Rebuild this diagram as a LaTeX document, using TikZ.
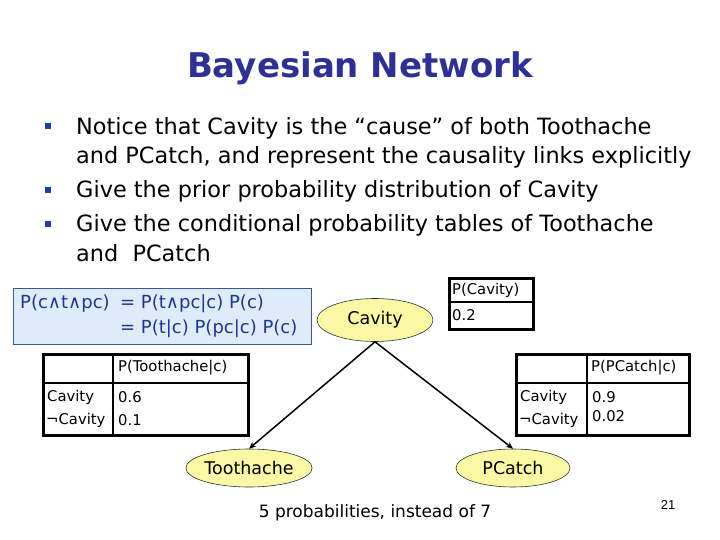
\documentclass[tikz,border=0pt]{standalone}
\usepackage{fontspec}
\setmainfont{DejaVu Sans}
\newfontfamily\arialfont{Liberation Sans}
\usetikzlibrary{shapes.geometric,arrows.meta}
\definecolor{titleblue}{RGB}{46,49,146}
\definecolor{bulletblue}{RGB}{30,60,180}
\definecolor{boxfill}{RGB}{222,236,250}
\definecolor{boxline}{RGB}{60,90,140}
\definecolor{formblue}{RGB}{30,55,140}
\definecolor{nodefill}{RGB}{250,248,165}
\tikzset{
  txt/.style={inner sep=0pt, anchor=base west},
  bullettxt/.style={txt, font=\fontsize{22.4}{26}\selectfont},
  bulletsq/.style={fill=bulletblue, minimum width=6pt, minimum height=6pt, inner sep=0pt},
  formtxt/.style={txt, text=formblue, font=\fontsize{18}{21}\selectfont},
  tabtxt/.style={inner sep=0pt, anchor=west, font=\fontsize{14.8}{18}\selectfont},
  tabbox/.style={draw, line width=2.5pt, inner sep=0pt},
  tabline/.style={line width=1.5pt},
  bnode/.style={ellipse, draw=black!80, line width=0.6pt, fill=nodefill, inner sep=0pt, font=\fontsize{17.5}{20}\selectfont},
  link/.style={line width=1.5pt, -{Stealth[length=7pt,width=6pt]}}
}
\begin{document}
\begin{tikzpicture}[x=1pt,y=-1pt]
\useasboundingbox (0,0) rectangle (720,540);
\fill[white] (0,0) rectangle (720,540);
% title
\node[inner sep=0pt, anchor=base, text=titleblue, font=\fontsize{34}{40}\selectfont\bfseries] (title) at (360,78) {Bayesian Network};
% bullets
\node[bulletsq] (b1) at (48,126) {};
\node[bullettxt] (t1) at (76,135) {Notice that Cavity is the “cause” of both Toothache};
\node[bullettxt] (t2) at (76,164) {and PCatch, and represent the causality links explicitly};
\node[bulletsq] (b2) at (48,190) {};
\node[bullettxt] (t3) at (76,198) {Give the prior probability distribution of Cavity};
\node[bulletsq] (b3) at (48,224) {};
\node[bullettxt] (t4) at (76,232) {Give the conditional probability tables of Toothache};
\node[bullettxt] (t5) at (76,261) {and~ PCatch};
% formula box
\node[draw=boxline, fill=boxfill, line width=0.8pt, minimum width=298pt, minimum height=56pt, inner sep=0pt, anchor=north west] (fbox) at (13,288) {};
\node[formtxt] (f1) at (20,308) {P(c∧t∧pc)};
\node[formtxt] (f2) at (120,308) {= P(t∧pc|c) P(c)};
\node[formtxt] (f3) at (120,333) {= P(t|c) P(pc|c) P(c)};
% Cavity prior table
\node[tabbox, minimum width=84pt, minimum height=51pt, anchor=north west] (ptab) at (448,277) {};
\draw[tabline] (448,302) -- (532,302);
\node[tabtxt] (pc1) at (452,290) {P(Cavity)};
\node[tabtxt] (pc2) at (452,315) {0.2};
% Toothache table
\node[tabbox, minimum width=205pt, minimum height=81pt, anchor=north west] (ttab) at (42,353) {};
\draw[tabline] (42,383) -- (247,383);
\draw[tabline] (113,353) -- (113,434);
\node[tabtxt] (tt1) at (118,368) {P(Toothache|c)};
\node[tabtxt] (tt2) at (47,397) {Cavity};
\node[tabtxt] (tt3) at (46,420) {¬Cavity};
\node[tabtxt] (tt4) at (118,397) {0.6};
\node[tabtxt] (tt5) at (118,420) {0.1};
% PCatch table
\node[tabbox, minimum width=173pt, minimum height=81pt, anchor=north west] (ctab) at (515,353) {};
\draw[tabline] (515,383) -- (688,383);
\draw[tabline] (587,353) -- (587,434);
\node[tabtxt] (ct1) at (591,368) {P(PCatch|c)};
\node[tabtxt] (ct2) at (520,397) {Cavity};
\node[tabtxt] (ct3) at (519,420) {¬Cavity};
\node[tabtxt] (ct4) at (592,397) {0.9};
\node[tabtxt] (ct5) at (592,416) {0.02};
% network nodes
\node[bnode, minimum width=116pt, minimum height=43pt] (cav) at (375,320) {Cavity};
\node[bnode, minimum width=118pt, minimum height=38pt] (tooth) at (249,468) {Toothache};
\node[bnode, minimum width=114pt, minimum height=38pt] (catch) at (513,468) {PCatch};
\draw[link] (cav.south) -- (tooth.north);
\draw[link] (cav.south) -- (catch.north);
% footer
\node[inner sep=0pt, font=\fontsize{17}{20}\selectfont] (note) at (375,513) {5 probabilities, instead of 7};
\node[inner sep=0pt, font=\arialfont\fontsize{13}{15}\selectfont] (pg) at (668,505) {21};
\end{tikzpicture}
\end{document}
